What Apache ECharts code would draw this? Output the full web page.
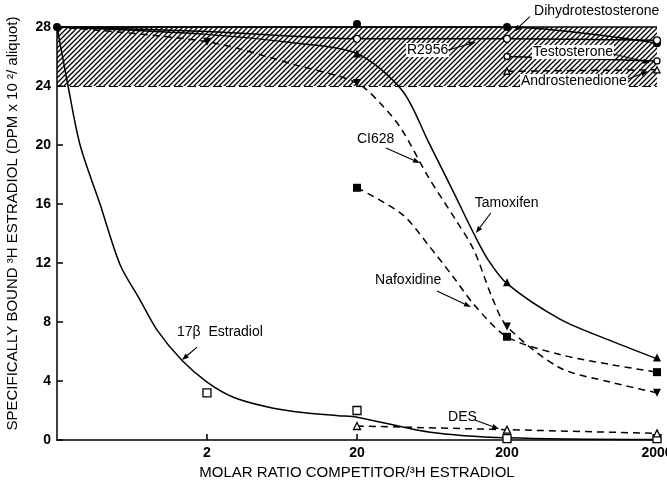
<!DOCTYPE html>
<html>
<head>
<meta charset="utf-8">
<script src="https://cdn.jsdelivr.net/npm/echarts@6/dist/echarts.min.js"></script>
<style>
  html, body { margin: 0; padding: 0; background: #fff; }
  #chart { width: 667px; height: 482px; }
</style>
</head>
<body>
<div id="chart"></div>
<script>
// Competition for specifically bound 3H-estradiol by steroids and antiestrogens.
// x: molar ratio competitor / 3H estradiol (0.2 = no competitor), y: DPM x 10^2 per aliquot

const ratioTicks = [2, 20, 200, 2000];

// fitted curves, [molar ratio, bound 3H estradiol]
const dihydrotestosteroneCurve = [[0.2, 28], [20, 28], [200, 28], [2000, 26.9]];
const r2956Curve = [[0.2, 28], [2, 27.7], [20, 27.2], [200, 27.2], [2000, 27.1]];
const testosteroneCurve = [[200, 26.0], [2000, 25.7]];
const androstenedioneCurve = [[200, 25.0], [2000, 25.1]];
const tamoxifenCurve = [[0.2, 28], [2, 27.5], [8, 26.9], [20, 26.2], [40, 23.7], [60, 20.2], [90, 16.6],
  [120, 14.0], [150, 12.2], [200, 10.6], [450, 8.2], [1000, 6.7], [2000, 5.5]];
const ci628Curve = [[0.2, 28], [2, 27.0], [8, 25.4], [20, 24.2], [30, 22.6], [40, 21.0], [60, 17.8],
  [90, 15.0], [120, 12.9], [160, 9.6], [200, 7.7], [450, 4.9], [1000, 3.9], [2000, 3.2]];
const nafoxidineCurve = [[20, 17.1], [40, 15.3], [60, 13.2], [90, 10.9], [120, 9.2], [200, 7.0],
  [450, 5.8], [1000, 5.1], [2000, 4.6]];
const estradiolCurve = [[0.2, 28], [0.237, 24], [0.285, 20], [0.387, 16], [0.526, 11.9], [0.715, 9.5],
  [0.93, 7.45], [1.36, 5.4], [2, 3.93], [3, 2.9], [5, 2.25], [8, 1.9], [15, 1.65], [20, 1.55],
  [60, 0.55], [200, 0.15], [2000, 0.03]];
const desCurve = [[20, 0.95], [200, 0.7], [2000, 0.45]];

// measured points
const dihydrotestosteronePts = [[0.2, 28], [20, 28.2], [200, 28.0], [2000, 26.9]];
const r2956Pts = [[20, 27.2], [200, 27.2], [2000, 27.1]];
const testosteronePts = [[200, 26.0], [2000, 25.7]];
const androstenedionePts = [[200, 25.0], [2000, 25.1]];
const tamoxifenPts = [[20, 26.2], [200, 10.7], [2000, 5.6]];
const ci628Pts = [[2, 27.0], [20, 24.2], [200, 7.7], [2000, 3.2]];
const nafoxidinePts = [[20, 17.1], [200, 7.0], [2000, 4.6]];
const estradiolPts = [[2, 3.2], [20, 2.0], [200, 0.1], [2000, 0.1]];
const desPts = [[20, 0.95], [200, 0.7], [2000, 0.45]];

// region of non-specific variation
const bandLow = 24;
const bandHigh = 28;

// curve labels: text anchor and arrow (tail -> head), in data units
const noteTexts = ['Dihydrotestosterone', 'R2956', 'Testosterone', 'Androstenedione', 'CI628',
  'Tamoxifen', 'Nafoxidine', '17\u03B2  Estradiol', 'DES'];
const noteAnchors = [[303, 29.08], [42.4, 26.44], [293, 26.3], [244, 24.34], [20, 20.4],
  [122, 16.07], [26.4, 10.85], [1.262, 7.32], [80.9, 1.56]];
const noteArrowTails = [[284, 28.7], [80.9, 26.44], [1018, 26.17], [1282, 24.47], [31.2, 19.8],
  [156, 15.39], [68.3, 10.1], [1.715, 6.3], [122, 1.36]];
const noteArrowHeads = [[223, 27.7], [124, 26.98], [1796, 25.56], [1742, 25.0], [52.6, 18.78],
  [124, 14.03], [115, 9.02], [1.362, 5.42], [177, 0.75]];
const noteOnBand = [false, true, true, true, false, false, false, false, false];

const FONT = '"Liberation Sans", Arial, Helvetica, sans-serif';

function hatchPattern() {
  const s = 5;
  const c = document.createElement('canvas');
  c.width = s; c.height = s;
  const g = c.getContext('2d');
  g.strokeStyle = '#000';
  g.lineWidth = 1.3;
  g.beginPath();
  g.moveTo(-1, s + 1); g.lineTo(s + 1, -1);
  g.moveTo(-1, 1); g.lineTo(1, -1);
  g.moveTo(s - 1, s + 1); g.lineTo(s + 1, s - 1);
  g.stroke();
  return c;
}

function curve(name, pts, dashed) {
  return {
    type: 'line', name, data: pts, smooth: 0.3,
    showSymbol: false, symbol: 'none', silent: true, clip: false,
    lineStyle: { color: '#000', width: 1.5, type: dashed ? [7, 5] : 'solid' },
    z: 3
  };
}

function markers(name, pts, symbol, filled, size, rotate) {
  return {
    type: 'scatter', name, data: pts, symbol, symbolSize: size, symbolRotate: rotate || 0,
    clip: false, silent: true,
    itemStyle: { color: filled ? '#000' : '#fff', borderColor: '#000', borderWidth: filled ? 0 : 1.3, opacity: 1 },
    z: 5
  };
}

const chart = echarts.init(document.getElementById('chart'), null, { renderer: 'canvas' });

const bandSeries = {
  type: 'line', name: 'band', data: [], silent: true,
  markArea: {
    silent: true,
    itemStyle: { color: { image: hatchPattern(), repeat: 'repeat' }, opacity: 1 },
    data: [[{ yAxis: bandLow }, { yAxis: bandHigh }]]
  },
  markLine: {
    silent: true, symbol: 'none', label: { show: false },
    data: [
      { yAxis: bandLow, lineStyle: { color: '#000', width: 1.2, type: [9, 4] } },
      { yAxis: bandHigh, lineStyle: { color: '#000', width: 1.5, type: 'solid' } }
    ]
  },
  z: 1
};

chart.setOption({
  animation: false,
  backgroundColor: '#fff',
  textStyle: { fontFamily: FONT, color: '#000' },
  grid: { left: 57, right: 10, top: 27, bottom: 42, containLabel: false, outerBoundsMode: 'none' },
  xAxis: {
    type: 'log', logBase: 10, min: 0.2, max: 2000,
    name: 'MOLAR RATIO COMPETITOR/\u00B3H ESTRADIOL',
    nameLocation: 'middle', nameGap: 25,
    nameTextStyle: { fontSize: 15, color: '#000', fontFamily: FONT },
    axisLine: { lineStyle: { color: '#000', width: 1.5 } },
    axisTick: { inside: true, length: 6, lineStyle: { color: '#000', width: 1.5 }, customValues: ratioTicks },
    axisLabel: {
      customValues: ratioTicks, color: '#000', fontSize: 14, fontWeight: 'bold', margin: 6, fontFamily: FONT,
      formatter: v => String(Math.round(v))
    },
    splitLine: { show: false },
    minorTick: { show: false }
  },
  yAxis: {
    type: 'value', min: 0, max: 28, interval: 4,
    name: 'SPECIFICALLY BOUND \u00B3H ESTRADIOL (DPM x 10 \u00B2/ aliquot)',
    nameLocation: 'middle', nameGap: 37, nameRotate: 90,
    nameTextStyle: { fontSize: 15, color: '#000', fontFamily: FONT, padding: [0, 0, 0, 20] },
    axisLine: { show: true, lineStyle: { color: '#000', width: 1.5 } },
    axisTick: { show: true, inside: true, length: 6, lineStyle: { color: '#000', width: 1.5 } },
    axisLabel: { color: '#000', fontSize: 14, fontWeight: 'bold', margin: 6, fontFamily: FONT },
    splitLine: { show: false }
  },
  series: [
    bandSeries,
    curve('Dihydrotestosterone', dihydrotestosteroneCurve, false),
    curve('R2956', r2956Curve, false),
    curve('Testosterone', testosteroneCurve, false),
    curve('Androstenedione', androstenedioneCurve, true),
    curve('Tamoxifen', tamoxifenCurve, false),
    curve('CI628', ci628Curve, true),
    curve('Nafoxidine', nafoxidineCurve, true),
    curve('17\u03B2 Estradiol', estradiolCurve, false),
    curve('DES', desCurve, true),
    markers('Dihydrotestosterone pts', dihydrotestosteronePts, 'circle', true, 8),
    markers('R2956 pts', r2956Pts, 'circle', false, 7),
    markers('Testosterone pts', testosteronePts, 'circle', false, 6),
    markers('Androstenedione pts', androstenedionePts, 'triangle', false, 6),
    markers('Tamoxifen pts', tamoxifenPts, 'triangle', true, 8),
    markers('CI628 pts', ci628Pts, 'triangle', true, 8, 180),
    markers('Nafoxidine pts', nafoxidinePts, 'rect', true, 8),
    markers('17\u03B2 Estradiol pts', estradiolPts, 'rect', false, 8),
    markers('DES pts', desPts, 'triangle', false, 7)
  ]
});

// curve labels with pointer arrows, placed through the grid's scales
function buildNotes() {
  const els = [];
  const toPx = p => chart.convertToPixel({ gridIndex: 0 }, p);
  noteTexts.forEach((txt, i) => {
    const a = toPx(noteAnchors[i]);
    const t = toPx(noteArrowTails[i]);
    const h = toPx(noteArrowHeads[i]);
    els.push({
      type: 'text', x: a[0], y: a[1], silent: true, z: 20,
      style: {
        text: txt, fill: '#000', font: '14px ' + FONT, align: 'left', verticalAlign: 'middle',
        backgroundColor: noteOnBand[i] ? '#fff' : null, padding: noteOnBand[i] ? [0, 1] : 0
      }
    });
    const ang = Math.atan2(h[1] - t[1], h[0] - t[0]);
    const len = 7, half = 2.6;
    const bx = h[0] - len * Math.cos(ang), by = h[1] - len * Math.sin(ang);
    els.push({
      type: 'line', silent: true, z: 20,
      shape: { x1: t[0], y1: t[1], x2: bx, y2: by },
      style: { stroke: '#000', lineWidth: 1.1 }
    });
    els.push({
      type: 'polygon', silent: true, z: 20,
      shape: { points: [
        [h[0], h[1]],
        [bx + half * Math.sin(ang), by - half * Math.cos(ang)],
        [bx - half * Math.sin(ang), by + half * Math.cos(ang)]
      ] },
      style: { fill: '#000' }
    });
  });
  chart.setOption({ graphic: { elements: els } });
}
buildNotes();
</script>
</body>
</html>
